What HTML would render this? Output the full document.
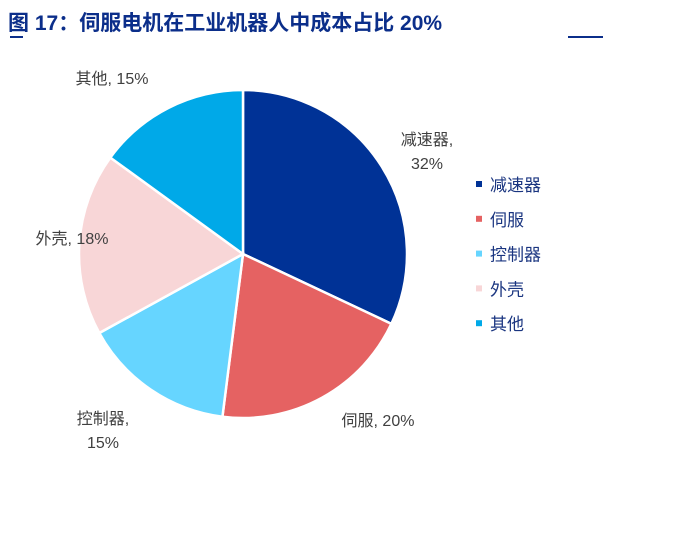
<!DOCTYPE html>
<html><head><meta charset="utf-8"><style>
body{margin:0;background:#fff;width:688px;height:534px;overflow:hidden;font-family:"Liberation Sans","Noto Sans CJK SC",sans-serif}
</style></head><body>
<svg width="688" height="534">
<text x="8" y="30" font-size="21" font-weight="bold" fill="#0b2e8a" font-family="Liberation Sans, Noto Sans CJK SC, sans-serif">图 17：伺服电机在工业机器人中成本占比 20%</text>
<rect x="10" y="36" width="13" height="2" fill="#0b2e8a"/>
<rect x="568" y="36" width="35" height="2" fill="#0b2e8a"/>
<g id="pie"></g><g id="labels"></g><g id="legend"></g>
</svg>
<script>
const categories=["减速器","伺服","控制器","外壳","其他"];
const values=[32,20,15,18,15];
const colors=["#003296","#e56262","#66d5ff","#f8d6d7","#00a9e8"];
const labelPos=[[427,145,2],[378,426,1],[103,424,2],[72,244,1],[112,84,1]];
const cx=243,cy=254,r=164,NS="http://www.w3.org/2000/svg";
const pie=document.getElementById('pie'),lab=document.getElementById('labels'),leg=document.getElementById('legend');
const total=values.reduce((a,b)=>a+b,0);
let a0=0;
function pt(a){return [cx+r*Math.sin(a),cy-r*Math.cos(a)];}
values.forEach((v,i)=>{
 const a1=a0+v/total*2*Math.PI;const p0=pt(a0),p1=pt(a1);
 const p=document.createElementNS(NS,'path');
 p.setAttribute('d',`M${cx},${cy}L${p0[0]},${p0[1]}A${r},${r} 0 ${a1-a0>Math.PI?1:0} 1 ${p1[0]},${p1[1]}Z`);
 p.setAttribute('fill',colors[i]);p.setAttribute('stroke','#fff');p.setAttribute('stroke-width','2.5');
 
 
 pie.appendChild(p);a0=a1;
 const lp=labelPos[i];const t=document.createElementNS(NS,'text');
 t.setAttribute('font-size','16');t.setAttribute('fill','#404040');t.setAttribute('text-anchor','middle');
 
 
 if(lp[2]==2){t.innerHTML=`<tspan x="${lp[0]}" y="${lp[1]}">${categories[i]},</tspan><tspan x="${lp[0]}" y="${lp[1]+24}">${v}%</tspan>`;}
 else{t.setAttribute('x',lp[0]);t.setAttribute('y',lp[1]);t.textContent=`${categories[i]}, ${v}%`;}
 lab.appendChild(t);
 const y=191+i*34.8;
 const m=document.createElementNS(NS,'rect');m.setAttribute('x',476);m.setAttribute('y',y-10);m.setAttribute('width',6);m.setAttribute('height',6);m.setAttribute('fill',colors[i]);
 
 
 leg.appendChild(m);
 const lt=document.createElementNS(NS,'text');lt.setAttribute('x',490);lt.setAttribute('y',y);lt.setAttribute('font-size','17');lt.setAttribute('fill','#1a3580');lt.textContent=categories[i];
 
 
 leg.appendChild(lt);
});
</script>
</body></html>
